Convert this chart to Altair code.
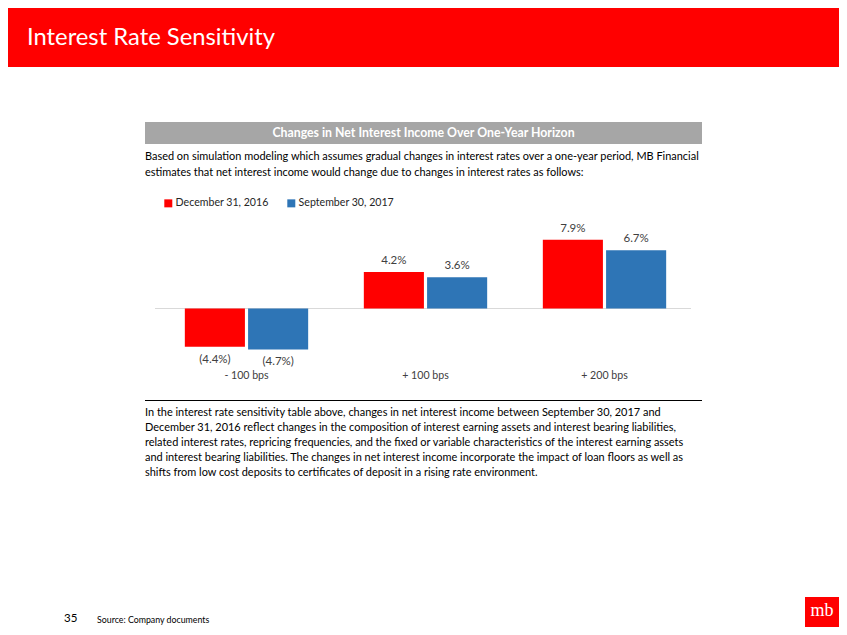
import altair as alt
import pandas as pd

# ---- data ----
scenarios = ["- 100 bps", "+ 100 bps", "+ 200 bps"]
series_names = ["December 31, 2016", "September 30, 2017"]
dec_2016 = [-4.4, 4.2, 7.9]
sep_2017 = [-4.7, 3.6, 6.7]
series_colors = ["#FF0000", "#2E75B6"]

slide_title = "Interest Rate Sensitivity"
header_text = "Changes in Net Interest Income Over One-Year Horizon"
intro_lines = [
    "Based on simulation modeling which assumes gradual changes in interest rates over a one-year period, MB Financial",
    "estimates that net interest income would change due to changes in interest rates as follows:",
]
note_lines = [
    "In the interest rate sensitivity table above, changes in net interest income between September 30, 2017 and",
    "December 31, 2016 reflect changes in the composition of interest earning assets and interest bearing liabilities,",
    "related interest rates, repricing frequencies, and the fixed or variable characteristics of the interest earning assets",
    "and interest bearing liabilities.  The changes in net interest income incorporate the impact of loan floors as well as",
    "shifts from low cost deposits to certificates of deposit in a rising rate environment.",
]
page_number = "35"
source_text = "Source: Company documents"
logo_text = "mb"


def fmt(v):
    return f"({abs(v):.1f}%)" if v < 0 else f"{v:.1f}%"


rows = []
for s, vals in zip(series_names, [dec_2016, sep_2017]):
    for sc, v in zip(scenarios, vals):
        rows.append({"scenario": sc, "series": s, "value": v, "label": fmt(v)})
df = pd.DataFrame(rows)
pos = df[df.value >= 0]
neg = df[df.value < 0]
one = pd.DataFrame({"k": [0]})
zero_df = pd.DataFrame({"value": [0.0]})

FONT = "Lato"
W, H = 831, 619

x_enc = alt.X("scenario:N", sort=scenarios, axis=None,
              scale=alt.Scale(range=[149, 686], paddingInner=0, paddingOuter=0))
xo_enc = alt.XOffset("series:N", sort=series_names,
                     scale=alt.Scale(paddingInner=0.05, paddingOuter=0.44))
y_scale = alt.Scale(domain=[-10, 10], range=[387.5, 213.5])
y_enc = alt.Y("value:Q", scale=y_scale, axis=None)

# decorations
title_bar = alt.Chart(one).mark_rect(color="#FF0000").encode(
    x=alt.value(0), x2=alt.value(W), y=alt.value(0), y2=alt.value(59))
title_txt = alt.Chart(one).mark_text(
    text=slide_title, color="white", font=FONT, fontSize=23.8, align="left",
    baseline="alphabetic").encode(x=alt.value(19), y=alt.value(37))

header_bar = alt.Chart(one).mark_rect(color="#A6A6A6").encode(
    x=alt.value(137), x2=alt.value(694), y=alt.value(114), y2=alt.value(136))
header_txt = alt.Chart(one).mark_text(
    text=header_text, color="white", font=FONT, fontSize=12.3, fontWeight="bold",
    align="center", baseline="middle").encode(x=alt.value(415.5), y=alt.value(125))

intro = alt.Chart(one).mark_text(
    text=intro_lines, color="black", font=FONT, fontSize=10.95, align="left",
    baseline="middle", lineHeight=16).encode(x=alt.value(137), y=alt.value(149))

bars = alt.Chart(df).mark_bar().encode(
    x=x_enc, xOffset=xo_enc, y=y_enc,
    color=alt.Color("series:N", sort=series_names,
                    scale=alt.Scale(domain=series_names, range=series_colors),
                    legend=alt.Legend(title=None, orient="none", legendX=155, legendY=190,
                                      direction="horizontal", symbolType="square",
                                      symbolSize=64, symbolStrokeWidth=0,
                                      labelFont=FONT, labelFontSize=10.6,
                                      labelColor="#262626", columnPadding=17,
                                      labelOffset=2, padding=0)),
)

zero = alt.Chart(zero_df).mark_rule(color="#D9D9D9", strokeWidth=1).encode(
    y=y_enc, x=alt.value(147), x2=alt.value(683))

pos_lbl = alt.Chart(pos).mark_text(
    font=FONT, fontSize=11.5, color="#404040", baseline="bottom", dy=-6).encode(
    x=x_enc, xOffset=xo_enc, y=y_enc, text="label:N")
neg_lbl = alt.Chart(neg).mark_text(
    font=FONT, fontSize=11.5, color="#404040", baseline="top", dy=7).encode(
    x=x_enc, xOffset=xo_enc, y=y_enc, text="label:N")

cat_df = pd.DataFrame({"scenario": scenarios})
cat_lbl = alt.Chart(cat_df).mark_text(
    font=FONT, fontSize=10.6, color="#404040", baseline="middle").encode(
    x=x_enc, y=alt.value(368), text="scenario:N")

sep_rule = alt.Chart(one).mark_rule(color="#000000", strokeWidth=1).encode(
    y=alt.value(392.5), x=alt.value(137), x2=alt.value(694))

note = alt.Chart(one).mark_text(
    text=note_lines, color="black", font=FONT, fontSize=10.95, align="left",
    baseline="middle", lineHeight=15).encode(x=alt.value(137), y=alt.value(405))

page_txt = alt.Chart(one).mark_text(
    text=page_number, color="black", font=FONT, fontSize=11.5, align="left",
    baseline="middle").encode(x=alt.value(56), y=alt.value(611))
source_txt = alt.Chart(one).mark_text(
    text=source_text, color="black", font=FONT, fontSize=8.8, align="left",
    baseline="middle").encode(x=alt.value(89), y=alt.value(612))

logo_box = alt.Chart(one).mark_rect(color="#FF0000").encode(
    x=alt.value(797), x2=alt.value(831), y=alt.value(589), y2=alt.value(619))
logo_txt = alt.Chart(one).mark_text(
    text=logo_text, color="white", font="Liberation Serif", fontSize=18,
    align="center", baseline="middle").encode(x=alt.value(814), y=alt.value(603))

chart = alt.layer(
    title_bar, title_txt, header_bar, header_txt, intro,
    zero, bars, pos_lbl, neg_lbl, cat_lbl,
    sep_rule, note, page_txt, source_txt, logo_box, logo_txt,
).properties(
    width=W, height=H, autosize="none", padding=0, background="white"
).configure_view(stroke=None)

chart.save("out.html", embed_options={"renderer": "svg", "actions": False})
